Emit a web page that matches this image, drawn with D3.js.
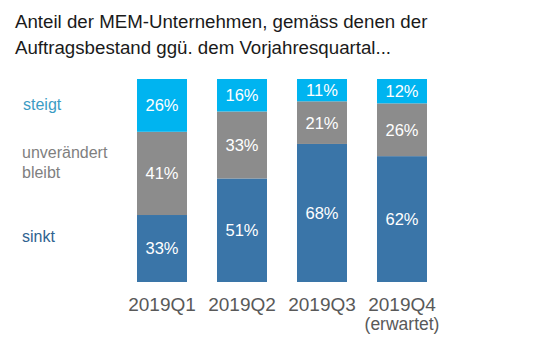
<!DOCTYPE html>
<html><head><meta charset="utf-8">
<script src="https://cdn.jsdelivr.net/npm/d3@7"></script>
<style>body{margin:0;background:#fff}svg{display:block}</style>
</head><body>
<script>
const categories = ["2019Q1","2019Q2","2019Q3","2019Q4"];
const subLabels = ["","","","(erwartet)"];
const sinkt = [33,51,68,62];
const unveraendert = [41,33,21,26];
const steigt = [26,16,11,12];
const seriesNames = ["sinkt","unverändert bleibt","steigt"];
const titleLines = ["Anteil der MEM-Unternehmen, gemäss denen der","Auftragsbestand ggü. dem Vorjahresquartal..."];

const W=549,H=341;
const font="'Liberation Sans', Arial, sans-serif";
const svg=d3.select("body").append("svg").attr("width",W).attr("height",H);

const x=d3.scaleBand().domain(categories).range([122,442]).paddingInner(0.375).paddingOuter(0.1875);
const y=d3.scaleLinear().domain([0,100]).range([282,79]);

const colors=["#3a75a8","#8c8c8c","#00b4f0"];
const legendColors=["#2f6390","#7f7f7f","#3b9cc4"];

const rows=categories.map((c,i)=>({cat:c,s0:sinkt[i],s1:unveraendert[i],s2:steigt[i]}));
const stack=d3.stack().keys(["s0","s1","s2"])(rows);

stack.forEach((layer,k)=>{
  const g=svg.append("g");
  g.selectAll("rect").data(layer).join("rect")
    .attr("x",d=>x(d.data.cat)).attr("width",x.bandwidth())
    .attr("y",d=>y(d[1])).attr("height",d=>y(d[0])-y(d[1]))
    .attr("fill",colors[k]);
  g.selectAll("text").data(layer).join("text")
    .attr("x",d=>x(d.data.cat)+x.bandwidth()/2)
    .attr("y",d=>(y(d[0])+y(d[1]))/2)
    .attr("dy","0.36em").attr("text-anchor","middle")
    .attr("fill","#fff").style("font-family",font).style("font-size","16.5px")
    .text(d=>(d[1]-d[0])+"%");
});

// category labels
const xa=svg.append("g");
xa.selectAll("text.c").data(categories).join("text").attr("class","c")
  .attr("x",d=>x(d)+x.bandwidth()/2).attr("y",311).attr("text-anchor","middle")
  .attr("fill","#595959").style("font-family",font).style("font-size","19px").text(d=>d);
xa.selectAll("text.s").data(categories).join("text").attr("class","s")
  .attr("x",d=>x(d)+x.bandwidth()/2).attr("y",330).attr("text-anchor","middle")
  .attr("fill","#595959").style("font-family",font).style("font-size","17.5px").text((d,i)=>subLabels[i]);

// legend labels
const leg=[{t:["steigt"],y:110,c:legendColors[2],x:23},{t:["unverändert","bleibt"],y:158,c:legendColors[1],x:22},{t:["sinkt"],y:242,c:legendColors[0],x:22}];
leg.forEach(l=>{
  const t=svg.append("text").attr("x",l.x).attr("y",l.y).attr("fill",l.c)
    .style("font-family",font).style("font-size","16px");
  l.t.forEach((s,i)=>t.append("tspan").attr("x",l.x).attr("dy",i?20:0).text(s));
});

// title
const tt=svg.append("text").attr("x",15).attr("y",28).attr("fill","#1a1a1a")
  .style("font-family",font).style("font-size","18.7px");
titleLines.forEach((s,i)=>tt.append("tspan").attr("x",15).attr("dy",i?26:0).text(s));
</script>
</body></html>
